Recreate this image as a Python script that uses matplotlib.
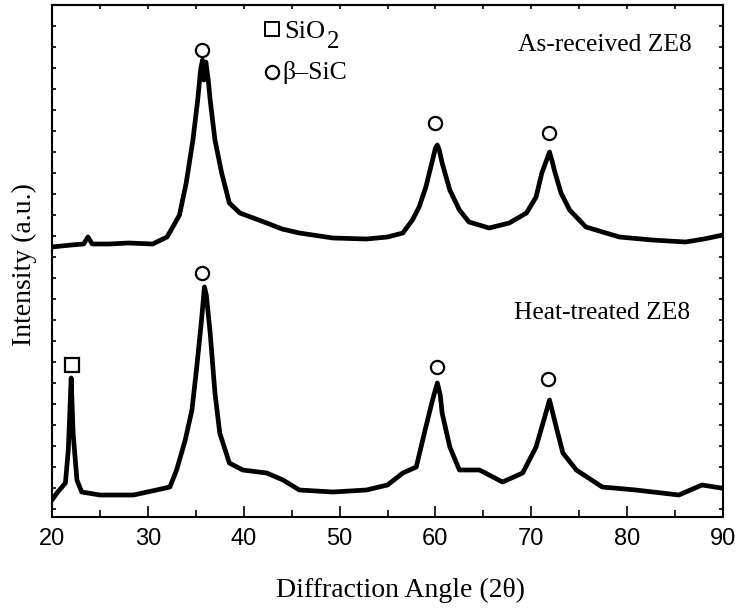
import matplotlib
matplotlib.use("Agg")
import matplotlib.pyplot as plt
from matplotlib.ticker import MultipleLocator

# ---- data ----
two_theta_as = [20.0, 21.0, 22.0, 23.3, 23.75, 24.2, 26.0, 28.0, 30.5, 32.0, 32.6, 33.3, 34.0, 34.7,
                35.2, 35.5, 35.7, 35.85, 36.05, 36.3, 36.5, 37.0, 37.7, 38.5, 39.6, 41.0, 42.4, 44.0,
                45.8, 49.3, 52.8, 55.0, 56.6, 57.6, 58.3, 59.0, 59.7, 60.0, 60.2, 60.4, 60.7, 61.5,
                62.5, 63.5, 65.6, 67.7, 69.5, 70.5, 71.1, 71.6, 71.9, 72.2, 72.4, 73.1, 74.0, 75.7,
                79.2, 82.6, 86.1, 88.0, 90.0]
intensity_as = [270, 271, 272, 273, 280, 273, 273, 274, 273, 280, 290, 302, 334, 377,
                417, 447, 457, 437, 455, 437, 417, 377, 344, 314, 304, 299, 294, 288,
                284, 279, 278, 280, 284, 297, 310, 330, 357, 369, 372, 367, 354, 327,
                307, 295, 289, 294, 304, 320, 344, 357, 365, 355, 347, 324, 307, 290,
                280, 277, 275, 278, 282]

two_theta_ht = [20.0, 20.6, 21.4, 21.7, 22.0, 22.2, 22.6, 23.1, 25.0, 28.5, 30.9, 32.3, 33.0, 33.9,
                34.6, 35.1, 35.6, 35.9, 36.1, 36.5, 37.0, 37.5, 38.5, 39.9, 42.4, 44.1, 45.8, 49.3,
                52.8, 55.0, 56.6, 58.0, 59.0, 59.7, 60.2, 60.5, 60.7, 61.5, 62.5, 64.6, 67.0, 69.1,
                70.5, 71.4, 71.9, 72.6, 73.3, 74.7, 77.4, 80.9, 85.4, 87.8, 89.8]
intensity_ht = [17, 25, 34, 67, 139, 84, 37, 25, 22, 22, 27, 30, 47, 77,
                107, 150, 197, 230, 222, 184, 124, 84, 54, 47, 44, 37, 27, 25,
                27, 32, 44, 50, 90, 117, 134, 122, 104, 70, 47, 47, 35, 44,
                70, 100, 117, 90, 64, 47, 30, 27, 22, 32, 29]

# phase markers
sic_x = [35.7, 60.0, 71.8, 35.7, 60.2, 71.7]
sic_y = [467, 394, 384, 244, 150, 138]
sio2_x = [22.1]
sio2_y = [152]

sample_labels = ["As-received ZE8", "Heat-treated ZE8"]
legend_labels = ["SiO", "2", "\u03b2\u2013SiC"]

serif = ["Liberation Serif", "DejaVu Serif"]
sans = ["Liberation Sans", "DejaVu Sans"]

# ---- figure ----
W, H = 739, 613
fig = plt.figure(figsize=(W/100, H/100), dpi=100)
ax = fig.add_axes([52/W, 1 - 517/H, (723-52)/W, (517-5)/H])

def px(x, y):
    """figure-pixel (from top-left) to figure fraction"""
    return x / W, 1 - y / H

ax.plot(two_theta_as, intensity_as, color="black", lw=3.4, solid_joinstyle="round")
ax.plot(two_theta_ht, intensity_ht, color="black", lw=3.4, solid_joinstyle="round")

ax.plot(sic_x, sic_y, ls="none", marker="o", ms=9.5, mfc="white", mec="black", mew=1.6)
ax.plot(sio2_x, sio2_y, ls="none", marker="s", ms=10, mfc="white", mec="black", mew=1.6)

# legend-like labels
ax.plot([42.9], [488], ls="none", marker="s", ms=10, mfc="white", mec="black", mew=1.4)
ax.plot([42.9], [445], ls="none", marker="o", ms=9.5, mfc="white", mec="black", mew=1.6)
fig.text(*px(284, 32), legend_labels[0], family=serif, fontsize=19, ha="left", va="center")
fig.text(*px(327, 42), legend_labels[1], family=serif, fontsize=18, ha="left", va="center")
fig.text(*px(282, 72), legend_labels[2], family=serif, fontsize=18.5, ha="left", va="center")

fig.text(*px(692, 45), sample_labels[0], family=serif, fontsize=18.4, ha="right", va="center")
fig.text(*px(690, 313), sample_labels[1], family=serif, fontsize=18.4, ha="right", va="center")

ax.set_xlim(20, 90)
ax.set_ylim(0, 512)

ax.xaxis.set_major_locator(MultipleLocator(10))
ax.xaxis.set_minor_locator(MultipleLocator(5))
ax.set_yticks([512 - 21*k for k in range(1, 25)])
ax.set_yticklabels([])
ax.tick_params(axis="x", which="major", direction="in", length=8, width=1.2, top=False,
               labelsize=17, pad=8)
ax.tick_params(axis="x", which="minor", direction="in", length=5, width=1.2, top=False)
ax.tick_params(axis="y", direction="in", length=3, width=1.2, left=True, right=True)
for lab in ax.get_xticklabels():
    lab.set_family(sans)

# top ticks every 5 units, short
sec = ax.secondary_xaxis("top")
sec.set_xticks([25, 30, 35, 40, 45, 50, 55, 60, 65, 70, 75, 80, 85])
sec.set_xticklabels([])
sec.tick_params(direction="in", length=3, width=1.2)
sec.spines["top"].set_linewidth(1.5)

for s in ax.spines.values():
    s.set_linewidth(1.5)

fig.text(*px(400, 590), "Diffraction Angle (2\u03b8)", family=serif, fontsize=20,
         ha="center", va="center")
fig.text(*px(24, 265), "Intensity (a.u.)", family=serif, fontsize=20,
         ha="center", va="center", rotation=90)

fig.savefig("out.png", dpi=100)
